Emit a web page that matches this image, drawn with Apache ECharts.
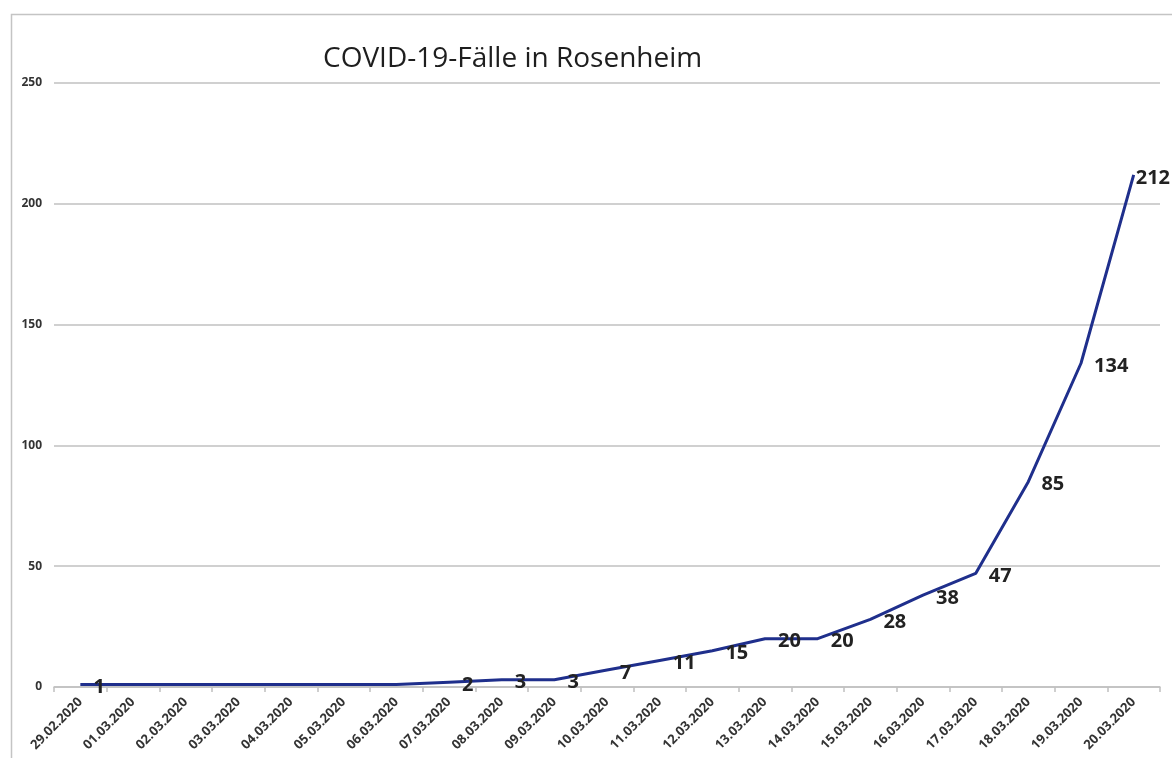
<!DOCTYPE html>
<html>
<head>
<meta charset="utf-8">
<script src="https://cdn.jsdelivr.net/npm/echarts@6/dist/echarts.min.js"></script>
<style>
html,body{margin:0;padding:0;background:#fff;}
#chart{width:1172px;height:758px;}
</style>
</head>
<body>
<div id="chart"></div>
<script>
const titleText = 'COVID-19-Fälle in Rosenheim';
const dates = ['29.02.2020','01.03.2020','02.03.2020','03.03.2020','04.03.2020','05.03.2020','06.03.2020','07.03.2020','08.03.2020','09.03.2020','10.03.2020','11.03.2020','12.03.2020','13.03.2020','14.03.2020','15.03.2020','16.03.2020','17.03.2020','18.03.2020','19.03.2020','20.03.2020'];
const cases = [1,1,1,1,1,1,1,2,3,3,7,11,15,20,20,28,38,47,85,134,212];
const yTicks = [0,50,100,150,200,250];
// Only these points carry a visible data label in the original chart
const labelled = [true,false,false,false,false,false,false,true,true,true,true,true,true,true,true,true,true,true,true,true,true];

const chart = echarts.init(document.getElementById('chart'), null, {renderer:'canvas'});
const seriesData = cases.map((v,i) => {
  const item = {value:v};
  if (!labelled[i]) item.label = {show:false};
  if (i === cases.length - 1) item.label = {distance:2};
  return item;
});
chart.setOption({
  backgroundColor:'#ffffff',
  animation:false,
  title:{
    text:titleText,
    left:318, top:40,
    textStyle:{fontFamily:'Open Sans', fontSize:28, fontWeight:'normal', color:'#1e1e1e'}
  },
  graphic:[{
    type:'rect', left:9, top:12, z:-1,
    shape:{width:1300, height:900},
    style:{fill:'none', stroke:'#c4c4c4', lineWidth:1.5}
  }],
  grid:{left:54, right:12, top:83, bottom:71, containLabel:false},
  xAxis:{
    type:'category', data:dates, boundaryGap:true,
    axisLine:{lineStyle:{color:'#c0c0c0', width:1.5}},
    axisTick:{show:true, length:5, lineStyle:{color:'#c0c0c0', width:1.5}},
    axisLabel:{rotate:45, interval:0, margin:13, fontFamily:'Open Sans', fontSize:13, fontWeight:'bold', color:'#333'},
    splitLine:{show:false}
  },
  yAxis:{
    type:'value', min:yTicks[0], max:yTicks[yTicks.length-1], interval:50,
    axisLine:{show:false}, axisTick:{show:false},
    axisLabel:{margin:12, fontFamily:'Open Sans', fontSize:12, fontWeight:'bold', color:'#333'},
    splitLine:{lineStyle:{color:'#c0c0c0', width:1.5}}
  },
  series:[{
    type:'line', data:seriesData, symbol:'circle', symbolSize:0.1, showSymbol:true,
    lineStyle:{color:'#1f2f8c', width:3},
    itemStyle:{color:'#1f2f8c'},
    label:{show:true, position:'right', distance:13, offset:[0,3],
      fontFamily:'Open Sans', fontSize:20, fontWeight:'bold', color:'#222'}
  }]
});
</script>
</body>
</html>
